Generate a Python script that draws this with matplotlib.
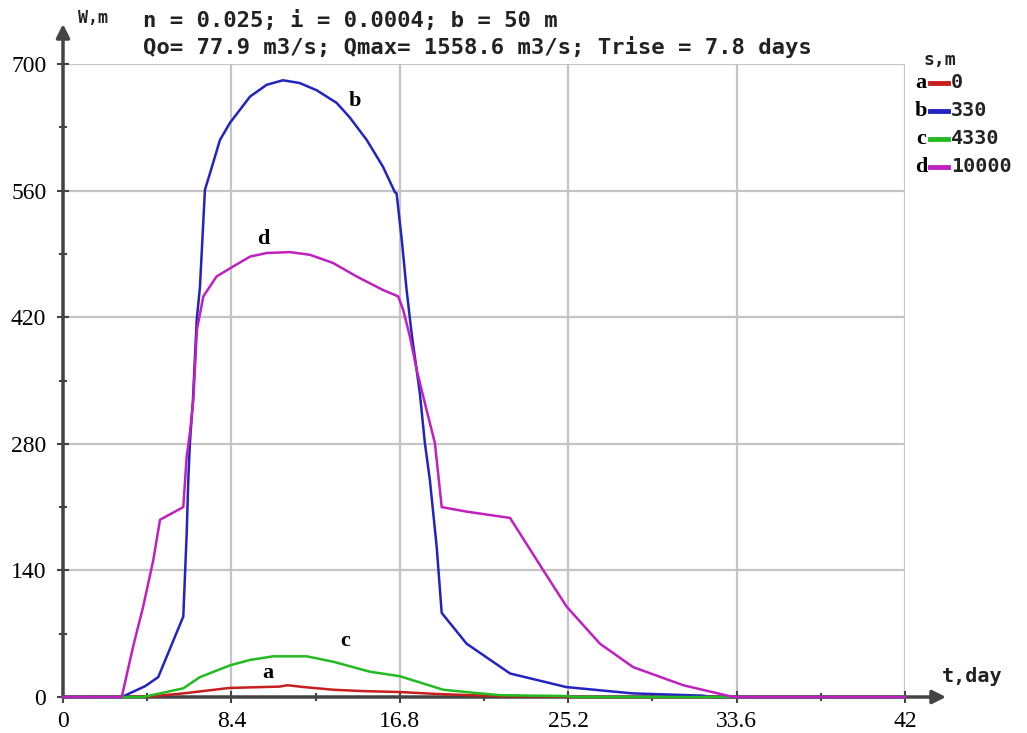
import numpy as np
from matplotlib import pyplot as plt
from matplotlib.ticker import MultipleLocator

# W (m) versus t (day)
t_a = [0, 4.3, 6.0, 8.3, 10.8, 11.2, 12.0, 13.5, 15.0, 16.8, 18.5, 20.3, 22.0, 25.0, 25.2, 42]
w_a = [0, 0.5, 4, 10, 11.5, 13, 11, 8, 6.5, 5.5, 3.5, 2, 1, 0.5, 0, 0]

t_b = [0, 2.93, 4.1, 4.75, 6.0, 6.17, 6.25, 6.33, 6.48, 6.67, 6.83, 7.08, 7.33, 7.83, 8.33,
       9.33, 10.16, 10.97, 11.8, 12.65, 13.65, 14.3, 15.15, 15.97, 16.56, 16.64, 16.9,
       17.14, 17.39, 17.8, 18.05, 18.3, 18.64, 18.89, 20.13, 22.3, 25.1, 28.4, 31.9,
       32.3, 42]
w_b = [0, 0, 12, 22, 89, 181, 240, 281, 328, 417, 453, 561, 579, 616, 635,
       664, 677, 682, 679, 671, 657, 641, 616, 586, 558, 557, 505,
       450, 402, 336, 281, 240, 166, 93, 59, 26, 11, 4, 1.5,
       0, 0]

t_c = [0, 4.0, 6.0, 6.83, 8.33, 9.33, 10.49, 12.15, 13.48, 15.3, 16.8, 18.97, 20.8,
       21.8, 25.2, 25.3, 42]
w_c = [0, 0, 9.6, 22, 35, 41, 45, 45, 39, 28, 23, 8, 4,
       2, 1, 0, 0]

t_d = [0, 2.93, 3.5, 4.0, 4.5, 4.84, 6.0, 6.17, 6.33, 6.5, 6.68, 7.0, 7.66, 8.48, 9.33,
       10.16, 11.32, 12.32, 13.47, 14.65, 15.97, 16.72, 16.97, 17.31, 17.64, 18.14,
       18.55, 18.89, 20.13, 22.3, 23.96, 25.12, 26.78, 28.44, 30.94, 33.43, 42]
w_d = [0, 0, 56, 100, 151, 196, 210, 266, 292, 328, 406, 443, 465, 476, 487,
       491, 492, 489, 480, 465, 450, 443, 428, 398, 362, 317,
       281, 210, 205, 198, 140, 100, 59, 33, 13, 0, 0]

letters = ['a', 'b', 'c', 'd']
s_values = ['0', '330', '4330', '10000']
colors = ['#c81e1e', '#2323c0', '#22bb22', '#c020c0']
label_pos = [(10.2, 26), (14.56, 659), (14.1, 62), (9.98, 507)]

x_ticks = [0, 8.4, 16.8, 25.2, 33.6, 42]
x_tick_labels = ['0', '8.4', '16.8', '25.2', '33.6', '42']
y_ticks = [0, 140, 280, 420, 560, 700]

fig = plt.figure(figsize=(10.27, 7.33), dpi=100)
ax = fig.add_axes([63 / 1027, 36 / 733, 842 / 1027, 633 / 733])

axis_col = '#444444'
mono = dict(family='DejaVu Sans Mono', weight='bold', color='#222222')

series = [(t_a, w_a), (t_b, w_b), (t_c, w_c), (t_d, w_d)]
for (t, w), c in zip(series, colors):
    ax.plot(t, w, color=c, lw=1.8, zorder=3, clip_on=False)

for (x, y), lt in zip(label_pos, letters):
    ax.text(x, y, lt, family='Liberation Serif', weight='bold', fontsize=16,
            ha='center', va='center')

ax.set_xlim(0, 42)
ax.set_ylim(0, 700)
ax.set_xticks(x_ticks)
ax.set_xticklabels(x_tick_labels)
ax.set_yticks(y_ticks)
ax.xaxis.set_minor_locator(MultipleLocator(4.2))
ax.yaxis.set_minor_locator(MultipleLocator(70))
ax.grid(True, color='#c4c4c4', lw=1.6)
ax.set_axisbelow(True)
for s in ax.spines.values():
    s.set_visible(False)
ax.tick_params(which='both', direction='inout', color=axis_col, width=1.5)
ax.tick_params(which='major', length=8)
ax.tick_params(which='minor', length=6)
ax.tick_params(axis='x', pad=6)
ax.tick_params(axis='y', pad=8)
for lab in ax.get_xticklabels() + ax.get_yticklabels():
    lab.set_family('Liberation Serif')
    lab.set_fontsize(17)

# axis arrows
ax.annotate('', xy=(0, (697 - 24) / 633), xytext=(0, 0), xycoords='axes fraction',
            arrowprops=dict(arrowstyle='-|>', color=axis_col, lw=2.5,
                            mutation_scale=20, shrinkA=0, shrinkB=0), zorder=1)
ax.annotate('', xy=((946 - 63) / 842, 0), xytext=(0, 0), xycoords='axes fraction',
            arrowprops=dict(arrowstyle='-|>', color=axis_col, lw=2.5,
                            mutation_scale=20, shrinkA=0, shrinkB=0), zorder=1)

# header texts
fig.text(78 / 1027, 1 - 18 / 733, 'W,m', fontsize=12, va='center', **mono)
fig.text(143 / 1027, 1 - 20 / 733, 'n = 0.025; i = 0.0004; b = 50 m',
         fontsize=16, va='center', **mono)
fig.text(143 / 1027, 1 - 47 / 733,
         'Qo= 77.9 m3/s; Qmax= 1558.6 m3/s; Trise = 7.8 days',
         fontsize=16, va='center', **mono)
fig.text(972 / 1027, 1 - 677 / 733, 't,day', fontsize=14.5, va='center',
         ha='center', **mono)
fig.text(940 / 1027, 1 - 60 / 733, 's,m', fontsize=13, va='center', ha='center', **mono)

# legend
for i, (lt, sv, c) in enumerate(zip(letters, s_values, colors)):
    yy = 1 - (83 + i * 28) / 733
    fig.text(921 / 1027, yy, lt, family='Liberation Serif', weight='bold',
             fontsize=16, ha='center', va='center')
    fig.add_artist(plt.Line2D([930 / 1027, 948 / 1027], [yy, yy], color=c, lw=3.5))
    fig.text(951 / 1027, yy, sv, fontsize=14.5, va='center', ha='left', **mono)

fig.savefig('out.png', dpi=100)
